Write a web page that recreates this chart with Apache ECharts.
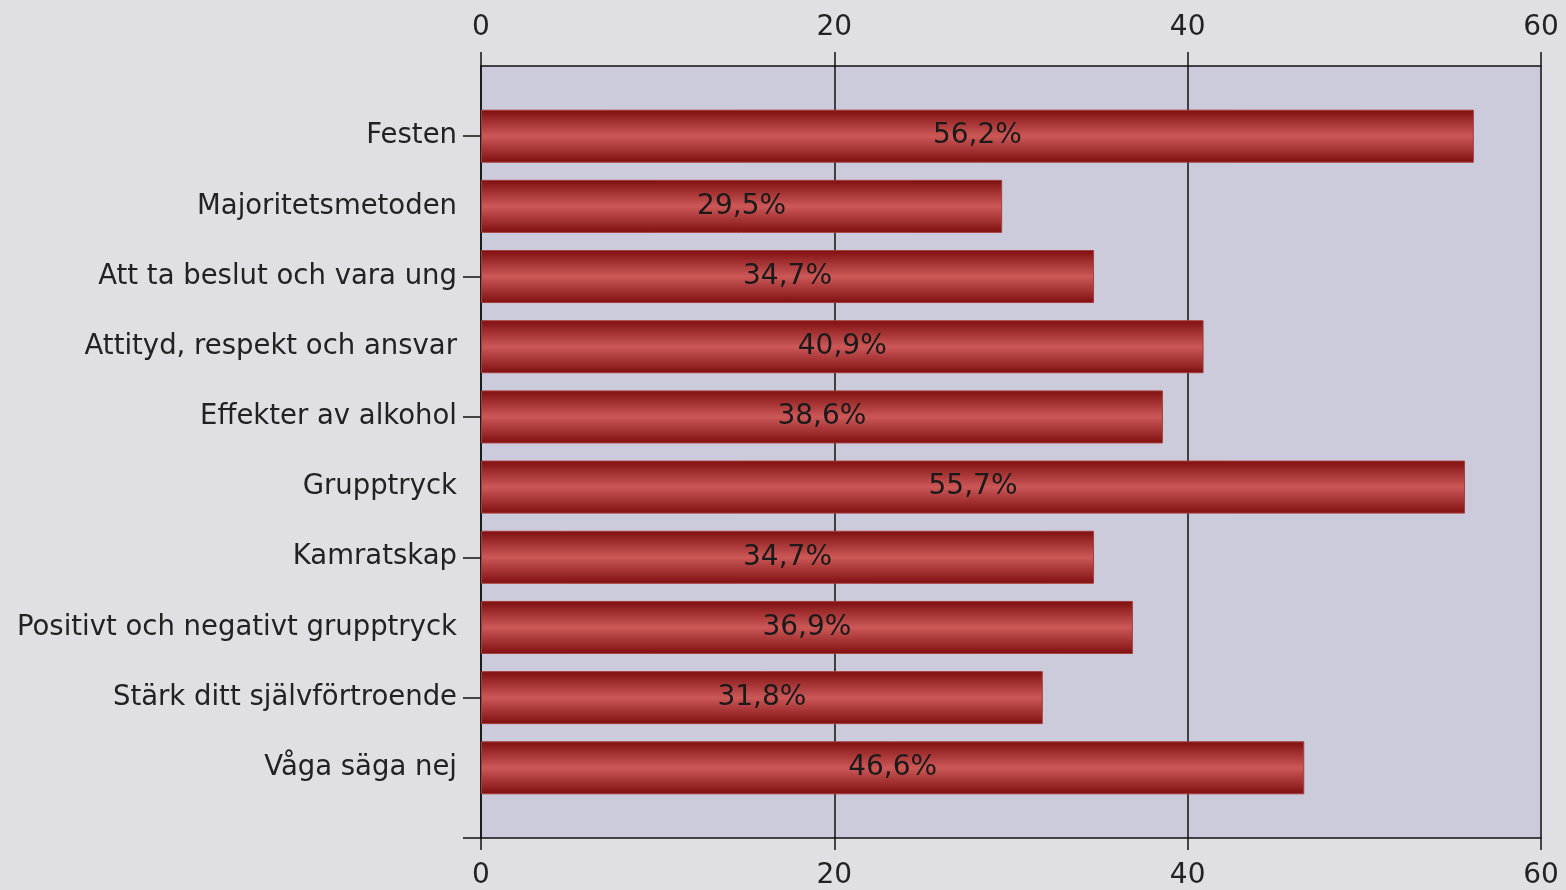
<!DOCTYPE html>
<html lang="sv">
<head>
<meta charset="UTF-8">
<title>Bar chart</title>
<style>
  html, body { margin: 0; padding: 0; background: #e0e0e4; }
  #main { width: 1566px; height: 890px; }
</style>
</head>
<body>
<div id="main"></div>
<script src="https://cdn.jsdelivr.net/npm/echarts@6/dist/echarts.min.js"></script>
<script>
  // kategorier (tom plats först och sist, som i originalet)
  var categories = ['', 'Festen', 'Majoritetsmetoden', 'Att ta beslut och vara ung',
    'Attityd, respekt och ansvar', 'Effekter av alkohol', 'Grupptryck', 'Kamratskap',
    'Positivt och negativt grupptryck', 'Stärk ditt självförtroende', 'Våga säga nej', ''];
  var values = [null, 56.2, 29.5, 34.7, 40.9, 38.6, 55.7, 34.7, 36.9, 31.8, 46.6, null];
  var xTicks = [0, 20, 40, 60];

  var font = 'DejaVu Sans';
  var chart = echarts.init(document.getElementById('main'));

  var barColor = new echarts.graphic.LinearGradient(0, 0, 0, 1, [
    { offset: 0, color: '#7e0f0f' },
    { offset: 0.25, color: '#a63434' },
    { offset: 0.5, color: '#cc5858' },
    { offset: 0.75, color: '#a63434' },
    { offset: 1, color: '#7e0f0f' }
  ]);

  var xAxisBase = {
    type: 'value',
    min: xTicks[0],
    max: xTicks[xTicks.length - 1],
    interval: 20,
    axisLine: { show: true, lineStyle: { color: '#111', width: 1.5 } },
    splitLine: { show: false }
  };

  var option = {
    backgroundColor: '#e0e0e4',
    animation: false,
    grid: {
      left: 481, right: 25, top: 66, bottom: 48,
      show: true, backgroundColor: '#cbcbdb', borderWidth: 0
    },
    xAxis: [
      Object.assign({}, xAxisBase, {
        position: 'top',
        axisTick: { show: true, length: 14, lineStyle: { color: '#111', width: 1.5 } },
        axisLabel: { color: '#222', fontFamily: font, fontSize: 28, margin: 24 },
        splitLine: { show: true, lineStyle: { color: '#111', width: 1.5 } }
      }),
      Object.assign({}, xAxisBase, {
        position: 'bottom',
        axisTick: { show: true, length: 12, lineStyle: { color: '#111', width: 1.5 } },
        axisLabel: { color: '#222', fontFamily: font, fontSize: 28, margin: 24 }
      })
    ],
    yAxis: {
      type: 'category',
      data: categories,
      inverse: true,
      boundaryGap: false,
      axisLine: { show: true, lineStyle: { color: '#111', width: 1.5 } },
      axisTick: {
        show: true, length: 18,
        interval: function (i) { return i % 2 === 1; },
        lineStyle: { color: '#111', width: 1.5 }
      },
      axisLabel: {
        interval: 0, color: '#222', fontFamily: font, fontSize: 27.5, margin: 24
      },
      splitLine: { show: false }
    },
    series: [{
      type: 'bar',
      xAxisIndex: 0,
      data: values,
      barWidth: 53,
      itemStyle: { color: barColor, borderColor: '#a83c3c', borderWidth: 1 },
      label: {
        show: true,
        position: 'inside',
        color: '#1a1a1a',
        fontFamily: font,
        fontSize: 28,
        formatter: function (p) { return String(p.value).replace('.', ',') + '%'; }
      }
    }]
  };

  chart.setOption(option);
</script>
</body>
</html>
